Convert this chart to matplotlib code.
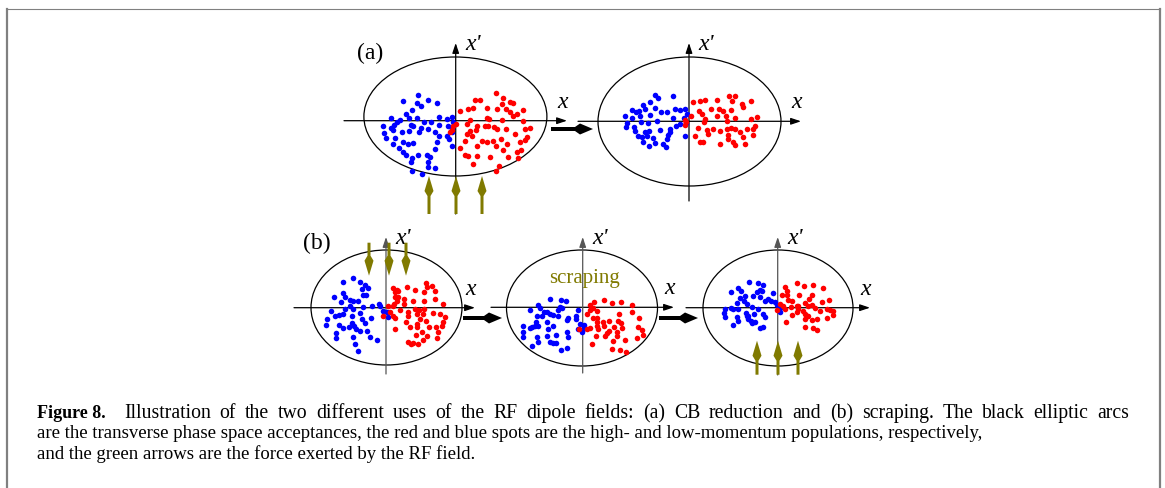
import matplotlib.pyplot as plt
from matplotlib.patches import Ellipse, Polygon
import numpy as np

# spots in phase space, (x, x') measured from each axis origin, unit = 1/3 px
a1_blue = [(-114, 77), (-159, 60), (-115, 53), (-84, 62), (-55, 53), (-103, 43), (-131, 33),
           (-150, 19), (-139, 7), (-195, 7), (-167, 3), (-175, -5), (-184, -13), (-115, 8),
           (-95, -3), (-75, -5), (-49, 10), (-27, 5), (-10, 10), (-217, -17), (-194, -22),
           (-135, -13), (-127, -17), (-105, -23), (-84, -25), (-49, -13), (-22, -15), (-9, -3),
           (-214, -37), (-187, -27), (-162, -33), (-139, -30), (-110, -33), (-63, -35),
           (-27, -45), (-11, -33), (-210, -53), (-182, -52), (-187, -70), (-159, -65),
           (-142, -70), (-127, -67), (-50, -47), (-57, -65), (-62, -85), (-12, -77),
           (-169, -81), (-157, -93), (-150, -103), (-114, -103), (-130, -113), (-135, -125),
           (-85, -103), (-77, -108), (-82, -123), (-84, -140), (-62, -141), (-132, -150),
           (-102, -160), (-19, -55), (-12, -25)]
a1_red = [(121, 83), (58, 63), (73, 63), (143, 67), (138, 50), (163, 55), (171, 53), (13, 30),
          (36, 35), (51, 37), (93, 37), (125, 35), (151, 35), (203, 33), (163, 25), (173, 13),
          (183, 20), (93, 7), (101, 5), (138, 3), (33, -10), (1, -10), (43, 3), (63, -15),
          (88, -17), (98, -15), (116, -20), (43, -30), (61, -28), (123, -25), (151, -25),
          (203, 0), (223, -22), (208, -25), (33, -40), (50, -45), (28, -60), (78, -60),
          (93, -65), (111, -60), (135, -55), (178, -40), (213, -50), (208, -58), (13, -83),
          (65, -75), (121, -77), (153, -70), (193, -65), (28, -103), (38, -107), (63, -105),
          (103, -110), (143, -87), (158, -110), (183, -95), (195, -87), (188, -113),
          (130, -135), (53, -130), (121, -150), (-7, -15), (-12, -27), (-17, -35)]

a2_blue = [(-102, 79), (-92, 69), (-47, 77), (-117, 59), (-137, 49), (-132, 37), (-150, 32),
           (-159, 27), (-172, 35), (-192, 15), (-172, 9), (-147, 15), (-117, 19), (-102, 39),
           (-84, 29), (-65, 27), (-42, 37), (-27, 34), (-12, 37), (-7, 22), (-187, -5),
           (-190, -18), (-165, -16), (-145, -1), (-122, -5), (-97, 2), (-47, 9), (-15, 9),
           (-9, -5), (-162, -28), (-132, -33), (-119, -28), (-87, -25), (-57, -23), (-39, -13),
           (-27, -8), (-152, -43), (-142, -48), (-125, -45), (-109, -51), (-62, -41),
           (-67, -53), (-137, -63), (-119, -73), (-102, -65), (-77, -68), (-69, -78),
           (-11, -43), (-57, -31)]
a2_red = [(13, 57), (33, 62), (48, 64), (83, 64), (121, 77), (138, 77), (128, 62), (158, 52),
          (163, 42), (186, 60), (5, 15), (31, 32), (38, 22), (65, 37), (91, 37), (101, 32),
          (125, 34), (85, 17), (111, 15), (48, 7), (-12, 5), (-9, -3), (-12, -10), (28, -21),
          (45, -3), (113, 2), (138, 9), (186, 7), (203, 12), (198, -15), (53, -25), (73, -23),
          (93, -30), (113, -23), (125, -21), (138, -23), (153, -33), (173, -23), (191, -23),
          (18, -43), (33, -61), (41, -63), (58, -38), (93, -68), (118, -41), (118, -53),
          (133, -63), (138, -71), (161, -46), (168, -68), (191, -41)]

b1_blue = [(-100, 90), (-130, 78), (-78, 78), (-156, 33), (-130, 44), (-123, 31), (-108, 24),
           (-100, 21), (-85, 21), (-68, 38), (-60, 38), (-53, 58), (-63, 68), (-73, 56),
           (-136, 16), (-166, -9), (-123, -4), (-108, 6), (-98, -4), (-68, 1), (-43, 4),
           (-20, 11), (-18, 4), (-8, -9), (4, -14), (-178, -34), (-153, -24), (-140, -22),
           (-130, -19), (-103, -24), (-78, -16), (-73, -34), (-46, -32), (-180, -52),
           (-140, -52), (-130, -62), (-103, -46), (-96, -54), (-90, -64), (-78, -69),
           (-110, -59), (-63, -46), (-56, -69), (-150, -77), (-150, -92), (-98, -89),
           (-48, -89), (-28, -96), (-93, -109), (-85, -130), (7, -29)]
b1_red = [(22, 58), (32, 54), (27, 46), (37, 51), (64, 63), (87, 54), (119, 74), (124, 61),
          (137, 64), (114, 48), (147, 51), (27, 31), (37, 31), (32, 21), (7, 4), (22, 4),
          (24, 11), (54, 26), (54, 11), (80, 21), (114, 21), (147, 26), (170, 11), (12, -12),
          (-8, -26), (22, -24), (27, -32), (42, -6), (67, -12), (87, -4), (100, -6),
          (114, -4), (67, -24), (92, -19), (102, -34), (112, -19), (120, -39), (140, -17),
          (162, -19), (177, -29), (172, -44), (27, -64), (60, -44), (72, -59), (92, -49),
          (94, -59), (107, -74), (130, -59), (150, -59), (167, -54), (157, -74), (90, -82),
          (122, -84), (112, -96), (152, -92), (67, -104), (74, -109), (80, -106), (97, -109)]

b2_blue = [(-98, 25), (-66, 23), (-51, 18), (-133, 7), (-158, -7), (-128, -3), (-115, -15),
           (-108, -13), (-98, -20), (-68, 0), (-61, -3), (-73, -7), (-136, -25), (-123, -27),
           (-88, -23), (-73, -25), (-43, -33), (-48, -37), (-20, -25), (-13, -7), (-20, -35),
           (-8, -50), (4, -53), (0, -65), (-3, -75), (-140, -43), (-153, -60), (-143, -57),
           (-133, -55), (-108, -45), (-90, -57), (-180, -73), (-180, -90), (-158, -63),
           (-138, -90), (-103, -65), (-108, -87), (-80, -83), (-98, -105), (-90, -107),
           (-80, -108), (-48, -73), (-43, -90), (-153, -117), (-133, -103), (-65, -127),
           (-48, -123), (-13, -65), (-178, -57)]
b2_red = [(22, 7), (34, 15), (64, 23), (87, 13), (114, 17), (147, 7), (22, -7), (30, -3),
          (42, -10), (12, -20), (110, -20), (147, -15), (42, -33), (32, -33), (80, -40),
          (107, -40), (114, -48), (170, -33), (42, -55), (64, -57), (22, -63), (-10, -65),
          (12, -65), (47, -65), (94, -60), (117, -63), (167, -60), (177, -67), (72, -77),
          (102, -73), (102, -85), (180, -83), (67, -87), (40, -87), (92, -100), (127, -97),
          (164, -93), (27, -110), (87, -125), (112, -128), (130, -135), (80, -70), (62, -45),
          (42, -43)]

b3_blue = [(-85, 76), (-58, 74), (-45, 68), (-118, 58), (-140, 48), (-110, 51), (-98, 36),
           (-75, 36), (-53, 54), (-61, 48), (-48, 51), (-53, 31), (-113, 28), (-123, 14),
           (-101, 21), (-38, 21), (-28, 26), (-13, 44), (-21, 21), (-8, 16), (-3, 8),
           (-158, -4), (-141, -2), (-133, -4), (-118, -4), (-93, 11), (-78, 1), (-58, -4),
           (7, -2), (7, -14), (-160, -16), (-158, -27), (-123, -29), (-95, -16), (-88, -24),
           (-71, -19), (-45, -19), (-38, -29), (-118, -39), (-88, -34), (-81, -39), (-78, -46),
           (-68, -44), (-133, -52), (-53, -62), (-43, -59), (-91, -26)]
b3_red = [(22, 61), (29, 51), (57, 74), (79, 64), (105, 68), (135, 58), (12, 38), (27, 38),
          (32, 24), (42, 21), (65, 38), (102, 38), (95, 26), (155, 24), (17, 6), (-3, -6),
          (22, -4), (39, 1), (57, 4), (62, -4), (82, 14), (92, 4), (102, 8), (112, -2),
          (132, 16), (157, -6), (165, -9), (7, 11), (42, -22), (57, -14), (75, -9), (82, -19),
          (87, -26), (127, -9), (147, -4), (165, -22), (25, -44), (82, -34), (92, -26),
          (102, -36), (117, -34), (147, -32), (82, -59), (105, -62), (119, -67), (62, 4)]

caption = ["Illustration of the two different uses of the RF dipole fields: (a) CB reduction "
           "and (b) scraping. The black elliptic arcs",
           "are the transverse phase space acceptances, the red and blue spots are the high- and "
           "low-momentum populations, respectively,",
           "and the green arrows are the force exerted by the RF field."]

W, H = 1165, 489
fig = plt.figure(figsize=(W / 100, H / 100), dpi=100)
ax = fig.add_axes([0, 0, 1, 1])
ax.set_xlim(0, W)
ax.set_ylim(H, 0)
ax.axis('off')

olive = '#807a00'
serif = 'Liberation Serif'
cap_fs = 13.5


def phase_panel(ox, oy, ell, xr, yr, blue, red, vcol='k'):
    # ellipse acceptance
    ax.add_patch(Ellipse(ell[:2], ell[2], ell[3], fill=False, ec='k', lw=0.9))
    ax.annotate('', xy=(xr[1], oy), xytext=(xr[0], oy),
                arrowprops=dict(arrowstyle='-|>,head_length=0.6,head_width=0.2',
                                color='k', lw=0.9, shrinkA=0, shrinkB=0))
    ax.annotate('', xy=(ox, yr[1]), xytext=(ox, yr[0]),
                arrowprops=dict(arrowstyle='-|>,head_length=0.6,head_width=0.2',
                                color=vcol, lw=0.9, shrinkA=0, shrinkB=0))
    b = np.array(blue) / 3.0
    r = np.array(red) / 3.0
    ax.scatter(ox + b[:, 0], oy - b[:, 1], s=16, color='#0000ff', linewidths=0, zorder=3)
    ax.scatter(ox + r[:, 0], oy - r[:, 1], s=16, color='#ff0000', linewidths=0, zorder=3)
    ax.text(xr[1] - 4, oy - 9, 'x', fontsize=17, family=serif, style='italic',
            ha='center', va='bottom')
    ax.text(ox + 17, yr[1] + 1, "x'", fontsize=17, family=serif, style='italic',
            ha='center', va='center')


def force_arrow(x, tip, length, up=True):
    d = 1 if up else -1
    pts = [(0, 0), (4.5, 15), (1.5, 20), (1.5, length), (-1.5, length), (-1.5, 20), (-4.5, 15)]
    ax.add_patch(Polygon([(x + px, tip + d * py) for px, py in pts], closed=True,
                         fc=olive, ec='none', zorder=4))


def push_arrow(x0, x1, y):
    pts = [(x0, y - 2), (x1 - 18, y - 2), (x1 - 13, y - 5.5), (x1, y),
           (x1 - 13, y + 5.5), (x1 - 18, y + 2), (x0, y + 2)]
    ax.add_patch(Polygon(pts, closed=True, fc='k', ec='none'))


def justified(text, x0, x1, y, fs):
    # spread the words of one caption line between x0 and x1
    r = fig.canvas.get_renderer()
    words = text.split()
    objs = [ax.text(0, y, w, fontsize=fs, family=serif, va='baseline') for w in words]
    widths = [o.get_window_extent(r).width for o in objs]
    gap = (x1 - x0 - sum(widths)) / (len(words) - 1)
    x = x0
    for o, w in zip(objs, widths):
        o.set_x(x)
        x += w + gap


# (a) CB reduction
phase_panel(455.7, 121.7, (455.4, 117.5, 183, 119), (344, 567), (215, 44), a1_blue, a1_red)
phase_panel(689, 122.3, (689.5, 122.5, 183, 129), (578, 801), (202, 44), a2_blue, a2_red)
push_arrow(551, 593, 130)
for xa in [429, 456, 482]:
    force_arrow(xa, 177, 38, up=True)
ax.text(370, 53, '(a)', fontsize=17, family=serif, ha='center', va='center')

# (b) scraping
phase_panel(386, 308.7, (386.5, 308.5, 151, 115), (294, 475), (375, 238), b1_blue, b1_red, '#555555')
phase_panel(582.7, 308.3, (582, 309, 151, 116), (491, 674), (374, 238), b2_blue, b2_red, '#555555')
phase_panel(777.7, 308.7, (778, 309, 150, 116), (686, 870), (376, 238), b3_blue, b3_red, '#555555')
push_arrow(463, 502, 319)
push_arrow(659, 698, 319)
for xa in [369, 389, 406]:
    force_arrow(xa, 276.7, 33, up=False)
for xa in [757, 778, 798]:
    force_arrow(xa, 341.7, 34, up=True)
ax.text(317, 243, '(b)', fontsize=17, family=serif, ha='center', va='center')
ax.text(585, 279, 'scraping', fontsize=15, family=serif, color=olive, ha='center', va='center')

# frame
ax.plot([6.5, 1160], [9.5, 9.5], color='#808080', lw=0.8)
ax.plot([6.5, 6.5], [9.5, 489], color='#808080', lw=1.6)
ax.plot([1160, 1160], [9.5, 489], color='#808080', lw=1.6)

# caption
ax.text(37, 418, 'Figure 8.', fontsize=cap_fs - 0.5, family=serif, weight='bold', va='baseline')
justified(caption[0], 124, 1129, 418, 14.2)
ax.text(37, 438.5, caption[1], fontsize=cap_fs, family=serif, va='baseline')
ax.text(37, 459, caption[2], fontsize=cap_fs, family=serif, va='baseline')

fig.savefig('out.png', dpi=100)
